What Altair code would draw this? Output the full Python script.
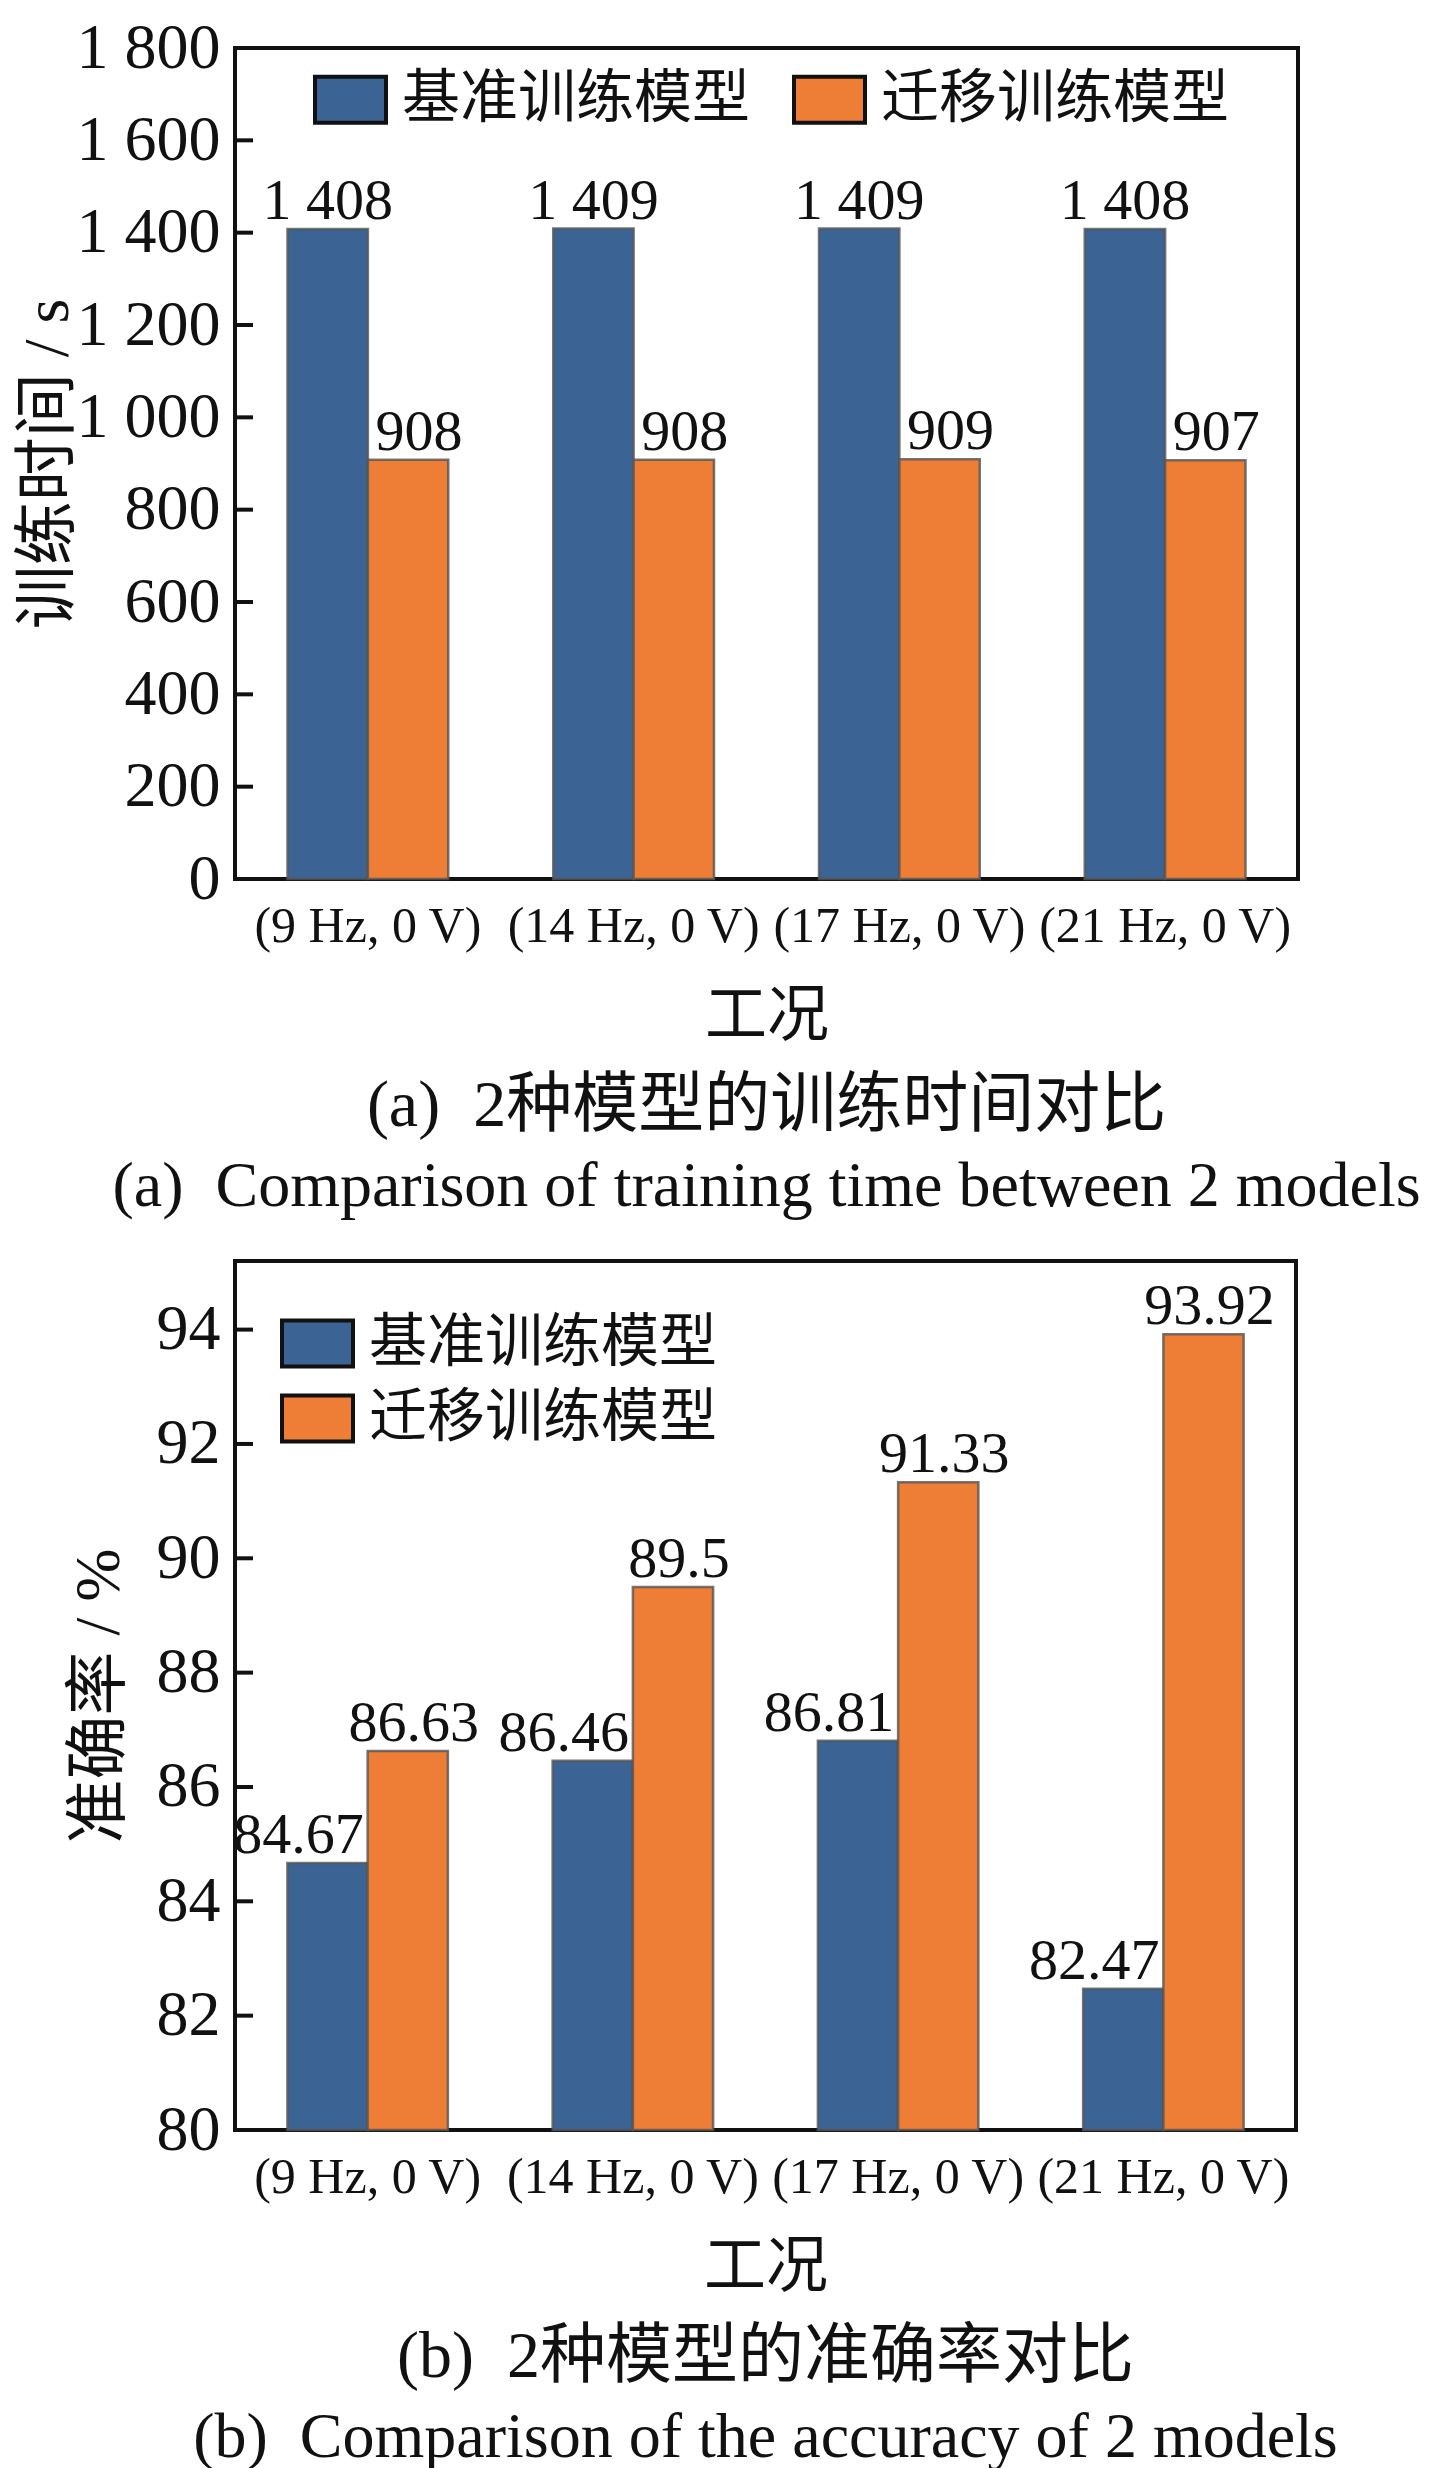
import altair as alt
import pandas as pd

# ---------------- data ----------------
conditions = ["(9 Hz, 0 V)", "(14 Hz, 0 V)", "(17 Hz, 0 V)", "(21 Hz, 0 V)"]
series_names = ["基准训练模型", "迁移训练模型"]
time_base = [1408, 1409, 1409, 1408]
time_transfer = [908, 908, 909, 907]
acc_base = [84.67, 86.46, 86.81, 82.47]
acc_transfer = [86.63, 89.5, 91.33, 93.92]
time_ticks = [0, 200, 400, 600, 800, 1000, 1200, 1400, 1600, 1800]
acc_ticks = [80, 82, 84, 86, 88, 90, 92, 94]
colors = ["#3b6494", "#ee7d35"]

FONT = "Liberation Serif, Times New Roman, Noto Sans CJK SC"
INK = "#111111"


def fmt_time(v):
    return f"{v:,}".replace(",", " ")


def fmt_acc(v):
    return f"{v:g}"


def build_df(base, transfer, fmt):
    rows = []
    for c, b, t in zip(conditions, base, transfer):
        rows.append({"cond": c, "series": series_names[0], "value": b, "label": fmt(b)})
        rows.append({"cond": c, "series": series_names[1], "value": t, "label": fmt(t)})
    return pd.DataFrame(rows)


RECT = "M-1,-0.65H1V0.65H-1Z"


def panel(df, ticks, domain, ytitle, title, subtitle, w, h, legend,
          dx_base, dx_tr, ytitle_pad, label_expr=None):
    x = alt.X(
        "cond:N", sort=conditions,
        scale=alt.Scale(paddingInner=0.395, paddingOuter=0.1975),
        axis=alt.Axis(title="工况", labelAngle=0, labelFontSize=50, labelPadding=22,
                      titleFontSize=62, titlePadding=35, labelFont=FONT, titleFont=FONT,
                      labelLimit=0),
    )
    xoff = alt.XOffset("series:N", sort=series_names,
                       scale=alt.Scale(paddingInner=0, paddingOuter=0))
    axis_kw = dict(values=ticks, title=ytitle, labelFontSize=64, labelPadding=15,
                   titleFontSize=64, titlePadding=ytitle_pad, labelFont=FONT,
                   titleFont=FONT, labelLimit=0)
    if label_expr:
        axis_kw["labelExpr"] = label_expr
    y = alt.Y("value:Q", scale=alt.Scale(domain=domain, zero=False, nice=False),
              axis=alt.Axis(**axis_kw))

    bars = alt.Chart(df).mark_bar(
        stroke="#555555", strokeWidth=2.5, strokeOpacity=0.8
    ).encode(
        x=x, xOffset=xoff, y=y, y2=alt.datum(domain[0]),
        color=alt.Color("series:N", sort=series_names,
                        scale=alt.Scale(domain=series_names, range=colors),
                        legend=legend),
    )
    text_base = alt.Chart(df).transform_filter(
        alt.datum.series == series_names[0]
    ).mark_text(dx=dx_base, dy=-10, baseline="alphabetic", fontSize=58,
                font=FONT, color=INK).encode(x=x, xOffset=xoff, y=y, text="label:N")
    text_tr = alt.Chart(df).transform_filter(
        alt.datum.series == series_names[1]
    ).mark_text(dx=dx_tr, dy=-10, baseline="alphabetic", fontSize=58,
                font=FONT, color=INK).encode(x=x, xOffset=xoff, y=y, text="label:N")
    tick_df = pd.DataFrame({"value": ticks})
    tick_layer = alt.Chart(tick_df).mark_rule(color=INK, strokeWidth=4).encode(
        y=y, x=alt.value(0), x2=alt.value(18)
    )
    return alt.layer(bars, text_base, text_tr, tick_layer).properties(
        width=w, height=h,
        title=alt.TitleParams(
            text=title, subtitle=subtitle, orient="bottom", anchor="middle",
            fontSize=66, subtitleFontSize=64, font=FONT, subtitleFont=FONT,
            fontWeight="normal", color=INK, subtitleColor=INK,
            offset=27, subtitlePadding=15,
        ),
    )


legend_a = alt.Legend(
    title=None, orient="none", legendX=78, legendY=14, direction="horizontal",
    symbolType=RECT, symbolSize=5041, symbolStrokeColor=INK, symbolStrokeWidth=4,
    symbolOpacity=1, labelFontSize=58, labelFont=FONT, labelColor=INK,
    labelOffset=14, columnPadding=35, padding=0, labelLimit=0,
)
legend_b = alt.Legend(
    title=None, orient="none", legendX=45, legendY=45, direction="vertical",
    symbolType=RECT, symbolSize=5041, symbolStrokeColor=INK, symbolStrokeWidth=4,
    symbolOpacity=1, labelFontSize=58, labelFont=FONT, labelColor=INK,
    labelOffset=14, rowPadding=6, padding=0, labelLimit=0,
)

df_time = build_df(time_base, time_transfer, fmt_time)
df_acc = build_df(acc_base, acc_transfer, fmt_acc)

pa = panel(df_time, time_ticks, [0, 1800], "训练时间 / s",
           "(a)\u00a0 2种模型的训练时间对比",
           "(a)\u00a0 Comparison of training time between 2 models",
           1063, 831, legend_a, 0, 11, -4,
           label_expr="replace(format(datum.value, ','), ',', ' ')")
pb = panel(df_acc, acc_ticks, [80, 95.2], "准确率 / %",
           "(b)\u00a0 2种模型的准确率对比",
           "(b)\u00a0 Comparison of the accuracy of 2 models",
           1061, 869, legend_b, -29, 6, 25)

chart = alt.vconcat(pa, pb, spacing=38).resolve_scale(
    color="independent", x="independent", y="independent", xOffset="independent"
).resolve_legend(color="independent").properties(
    padding={"left": 6, "top": 6, "right": 0, "bottom": 0}
).configure_view(
    stroke=INK, strokeWidth=4
).configure_axis(
    domain=False, ticks=False, grid=False, labelColor=INK, titleColor=INK,
    titleFontWeight="normal",
)

chart.save("out.html", embed_options={"renderer": "svg", "actions": False})
